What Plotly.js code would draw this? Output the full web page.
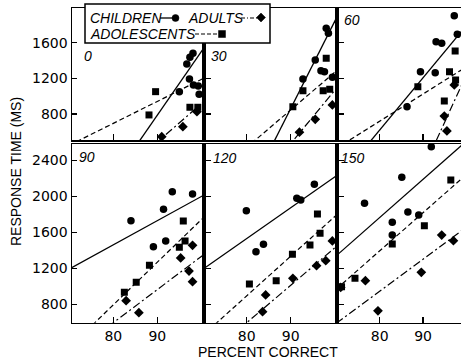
<!DOCTYPE html>
<html>
<head>
<meta charset="utf-8">
<script src="https://cdn.plot.ly/plotly-3.0.1.min.js"></script>
<style>html,body{margin:0;padding:0;background:#fff}#chart{width:461px;height:363px}</style>
</head>
<body>
<div id="chart"></div>
<script>
// ---- data (one entry per SOA panel) ----
const soaLabels = ['0', '30', '60', '90', '120', '150'];

const childX = [
  [98.1, 97.4, 96.7, 97.3, 95.0, 98.2, 99.3, 99.5],
  [98.1, 98.6, 95.6, 92.8, 96.9, 97.7, 99.5],
  [97.2, 97.9, 93.0, 94.3, 89.4, 92.8, 86.3],
  [93.4, 98.0, 91.4, 84.0, 91.9, 89.1],
  [95.4, 91.4, 92.3, 79.9, 83.8, 82.1],
  [91.9, 85.1, 76.5, 86.5, 89.0, 82.9, 82.9]
];
const childY = [
  [1481, 1436, 1361, 1193, 1051, 1126, 1115, 1022],
  [1761, 1705, 1406, 1193, 1286, 1275, 1212],
  [1903, 1694, 1611, 1593, 1275, 1264, 883],
  [2053, 2028, 1858, 1731, 1506, 1442],
  [2136, 1980, 1961, 1842, 1469, 1387],
  [2553, 2213, 1924, 1828, 1794, 1713, 1572]
];
const adolX = [
  [89.6, 88.1, 97.4, 99.2],
  [98.1, 92.8, 97.4, 98.9, 90.5],
  [97.4, 88.8, 96.1, 97.5, 94.9],
  [95.9, 96.3, 95.0, 88.2, 85.2, 82.5],
  [96.1, 96.7, 94.4, 90.4, 86.7, 80.6],
  [96.4, 90.3, 82.9, 74.3, 71.2]
];
const adolY = [
  [1051, 790, 876, 876],
  [1425, 1062, 1062, 1078, 883],
  [1507, 1107, 1275, 1182, 946],
  [1728, 1506, 1436, 1236, 1047, 936],
  [1806, 1591, 1461, 1358, 1065, 1028],
  [2183, 1676, 1472, 1091, 998]
];
const adultX = [
  [95.8, 91.0, 99.0],
  [99.5, 95.6, 92.0],
  [97.2, 94.9, 95.5],
  [98.0, 95.3, 97.2, 98.0, 82.9, 85.8],
  [99.5, 98.0, 95.9, 90.5, 84.3, 83.6],
  [94.3, 97.0, 89.6, 76.7, 71.0, 79.6]
];
const adultY = [
  [658, 546, 827],
  [902, 741, 596],
  [1126, 778, 610],
  [1458, 1317, 1172, 1053, 842, 709],
  [1506, 1287, 1231, 1091, 906, 720],
  [1572, 1509, 1158, 1065, 990, 730]
];
// regression lines: value at 80% correct and slope (ms per %)
const childAt80  = [75, -114, 621, 1464, 1533, 1766];
const childSlope = [71.3, 97.5, 58.6, 26.8, 34.1, 42.4];
const adolAt80   = [696, 426, 720, 797, 897, 1396];
const adolSlope  = [24.6, 42.0, 30.5, 47.3, 43.9, 42.4];
const adultAt80  = [57, -127, -879, 598, 598, 947];
const adultSlope = [42.9, 59.5, 106, 36.8, 41.5, 35.6];

const xTicks = [80, 90];
const yTicksTop = [800, 1200, 1600];
const yTicksBottom = [800, 1200, 1600, 2000, 2400];

// ---- layout helpers (pixels -> paper) ----
const W = 461, H = 363;
const px = v => v / W;
const py = v => 1 - v / H;
const colPx = [[72, 202], [205.5, 335], [338.5, 461]];
const rowPx = [[8, 140], [144, 322.7]];
const colRange = [[70.6, 100.15], [70.6, 100.1], [70.5, 98.75]];
const rowRange = [[509, 1989], [598, 2583]];

const traces = [];
const layout = {
  width: W, height: H,
  margin: {l: 0, r: 0, t: 0, b: 0},
  paper_bgcolor: '#fff', plot_bgcolor: '#fff',
  showlegend: false,
  font: {family: 'Liberation Sans, Arial, sans-serif', size: 14, color: '#000'},
  shapes: [], annotations: []
};

const lineX = [70, 101];
function fitLine(at80, slope) { return lineX.map(x => at80 + slope * (x - 80)); }

for (let i = 0; i < 6; i++) {
  const col = i % 3, row = Math.floor(i / 3);
  const n = i + 1;
  const xa = 'x' + (n === 1 ? '' : n), ya = 'y' + (n === 1 ? '' : n);
  const common = {xaxis: xa, yaxis: ya, hoverinfo: 'skip'};
  traces.push(Object.assign({x: lineX, y: fitLine(childAt80[i], childSlope[i]), mode: 'lines', line: {color: '#000', width: 1.3}}, common));
  traces.push(Object.assign({x: lineX, y: fitLine(adolAt80[i], adolSlope[i]), mode: 'lines', line: {color: '#000', width: 1.2, dash: '5px,3px'}}, common));
  traces.push(Object.assign({x: lineX, y: fitLine(adultAt80[i], adultSlope[i]), mode: 'lines', line: {color: '#000', width: 1.2, dash: '8px,3px,2px,3px'}}, common));
  traces.push(Object.assign({x: childX[i], y: childY[i], mode: 'markers', marker: {symbol: 'circle', size: 7.5, color: '#000'}}, common));
  traces.push(Object.assign({x: adolX[i], y: adolY[i], mode: 'markers', marker: {symbol: 'square', size: 7, color: '#000'}}, common));
  traces.push(Object.assign({x: adultX[i], y: adultY[i], mode: 'markers', marker: {symbol: 'diamond', size: 7.5, color: '#000'}}, common));

  const axBase = {showgrid: false, zeroline: false, showline: true, linecolor: '#000', linewidth: 1.5,
                  ticks: 'inside', tickcolor: '#000', tickwidth: 1.2, fixedrange: true,
                  tickfont: {family: 'DejaVu Sans, sans-serif', size: 14, color: '#000'}};
  layout['xaxis' + (n === 1 ? '' : n)] = Object.assign({}, axBase, {
    domain: [px(colPx[col][0]), px(colPx[col][1])], range: colRange[col],
    anchor: ya, tickmode: 'array', tickvals: xTicks, ticktext: xTicks.map(String), ticklen: 6,
    showticklabels: row === 1, mirror: true
  });
  const yt = row === 0 ? yTicksTop : yTicksBottom;
  layout['yaxis' + (n === 1 ? '' : n)] = Object.assign({}, axBase, {
    domain: [py(rowPx[row][1]), py(rowPx[row][0])], range: rowRange[row],
    anchor: xa, tickmode: 'array', tickvals: yt, ticktext: yt.map(String), ticklen: 5,
    showticklabels: col === 0, mirror: col < 2
  });
}

// panel labels
const labelPos = [[82, 56], [209, 56], [342, 20], [77, 157], [211, 158], [339, 158]];
soaLabels.forEach((t, i) => {
  layout.annotations.push({text: '<i>' + t + '</i>', xref: 'paper', yref: 'paper',
    x: px(labelPos[i][0]), y: py(labelPos[i][1]), xanchor: 'left', yanchor: 'middle',
    showarrow: false, font: {size: 14, family: 'Liberation Sans, Arial, sans-serif'}});
});

// axis titles
layout.annotations.push({text: 'RESPONSE TIME (MS)', xref: 'paper', yref: 'paper', x: px(16), y: py(172),
  textangle: -90, showarrow: false, xanchor: 'center', yanchor: 'middle', font: {size: 14}});
layout.annotations.push({text: 'PERCENT CORRECT', xref: 'paper', yref: 'paper', x: px(268), y: py(352),
  showarrow: false, xanchor: 'center', yanchor: 'middle', font: {size: 14}});

// legend box
layout.shapes.push({type: 'rect', xref: 'paper', yref: 'paper', x0: px(85), x1: px(270), y0: py(43), y1: py(4),
  fillcolor: '#fff', line: {color: '#000', width: 1.5}, layer: 'above'});
layout.shapes.push({type: 'line', xref: 'paper', yref: 'paper', x0: px(160), x1: px(173), y0: py(18), y1: py(18), line: {color: '#000', width: 1.3}, layer: 'above'});
layout.shapes.push({type: 'circle', xref: 'paper', yref: 'paper', x0: px(172), x1: px(179), y0: py(21.5), y1: py(14.5), fillcolor: '#000', line: {color: '#000', width: 0.5}, layer: 'above'});
layout.shapes.push({type: 'line', xref: 'paper', yref: 'paper', x0: px(241), x1: px(257), y0: py(18), y1: py(18), line: {color: '#000', width: 1.2, dash: '4px,2px,1px,2px'}, layer: 'above'});
layout.shapes.push({type: 'path', xref: 'paper', yref: 'paper',
  path: `M ${px(261)} ${py(13)} L ${px(265.5)} ${py(17.5)} L ${px(261)} ${py(22)} L ${px(256.5)} ${py(17.5)} Z`,
  fillcolor: '#000', line: {color: '#000', width: 0.5}, layer: 'above'});
layout.shapes.push({type: 'line', xref: 'paper', yref: 'paper', x0: px(195), x1: px(218), y0: py(34), y1: py(34), line: {color: '#000', width: 1.2, dash: '4px,2px'}, layer: 'above'});
layout.shapes.push({type: 'rect', xref: 'paper', yref: 'paper', x0: px(218.5), x1: px(225.5), y0: py(37.5), y1: py(30.5), fillcolor: '#000', line: {color: '#000', width: 0.5}, layer: 'above'});
layout.annotations.push({text: '<i>CHILDREN</i>', xref: 'paper', yref: 'paper', x: px(88), y: py(18), xanchor: 'left', yanchor: 'middle', showarrow: false, font: {size: 14}});
layout.annotations.push({text: '<i>ADULTS</i>', xref: 'paper', yref: 'paper', x: px(186), y: py(18), xanchor: 'left', yanchor: 'middle', showarrow: false, font: {size: 14}});
layout.annotations.push({text: '<i>ADOLESCENTS</i>', xref: 'paper', yref: 'paper', x: px(88), y: py(34), xanchor: 'left', yanchor: 'middle', showarrow: false, font: {size: 14}});

Plotly.newPlot('chart', traces, layout, {staticPlot: true, displayModeBar: false});
</script>
</body>
</html>
